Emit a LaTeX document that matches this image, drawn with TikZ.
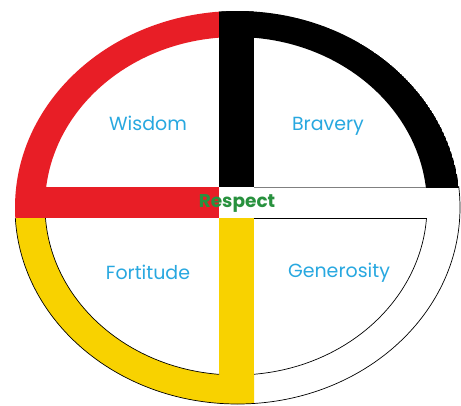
\documentclass[tikz,border=0pt]{standalone}
\usepackage{fontspec}
\setmainfont{Poppins}
\definecolor{wheelred}{RGB}{232,30,38}
\definecolor{wheelyellow}{RGB}{248,210,0}
\definecolor{lblblue}{RGB}{40,168,224}
\definecolor{respgreen}{RGB}{40,145,62}
\begin{document}
\begin{tikzpicture}[x=1pt,y=-1pt,
  lbl/.style={text=lblblue,font=\fontsize{19}{19}\selectfont,inner sep=0pt},
  resp/.style={text=respgreen,font=\bfseries\fontsize{18.5}{18.5}\selectfont,inner sep=0pt},
  edge/.style={draw=black,line width=0.7pt}]
\useasboundingbox (0,0) rectangle (461,405);
\fill[white] (0,0) rectangle (461,405);
\def\outerE{(237.5,207.5) ellipse [x radius=222.5, y radius=196.5]}
\def\innerE{(236,206) ellipse [x radius=191, y radius=169]}
\begin{scope}
  \clip \outerE;
  % red quarter
  \begin{scope}
    \clip (0,0) rectangle (219,218);
    \fill[wheelred,even odd rule] \outerE \innerE;
    \fill[wheelred] (20,187) rectangle (219,218);
  \end{scope}
  % black quarter
  \begin{scope}
    \clip (219,0) rectangle (461,187);
    \fill[black,even odd rule] \outerE \innerE;
    \fill[black] (219,0) rectangle (254,187);
  \end{scope}
  % yellow quarter
  \begin{scope}
    \clip (0,218) rectangle (254,405);
    \fill[wheelyellow,even odd rule] \outerE \innerE;
    \fill[wheelyellow] (219,218) rectangle (254,405);
  \end{scope}
\end{scope}
% outlines of the white and yellow parts
\begin{scope}
  \clip (254,186) rectangle (461,405);
  \draw[edge] \outerE;
\end{scope}
\begin{scope}
  \clip (0,218) rectangle (254,405);
  \draw[edge] \outerE;
\end{scope}
\begin{scope}
  \clip (254,218) rectangle (461,405);
  \draw[edge] \innerE;
\end{scope}
\begin{scope}
  \clip (0,218) rectangle (219,405);
  \draw[edge] \innerE;
\end{scope}
\draw[draw=gray,line width=0.8pt] (254,187) -- (425.8,187);
\draw[edge] (254,218) -- (426.5,218);
% labels
\node[lbl] (wisdom) at (148,123) {Wisdom};
\node[lbl] (bravery) at (328,126) {Bravery};
\node[lbl] (fortitude) at (148,272) {Fortitude};
\node[lbl] (generosity) at (339,273) {Generosity};
\node[resp] (respect) at (237,203) {Respect};
\end{tikzpicture}
\end{document}
